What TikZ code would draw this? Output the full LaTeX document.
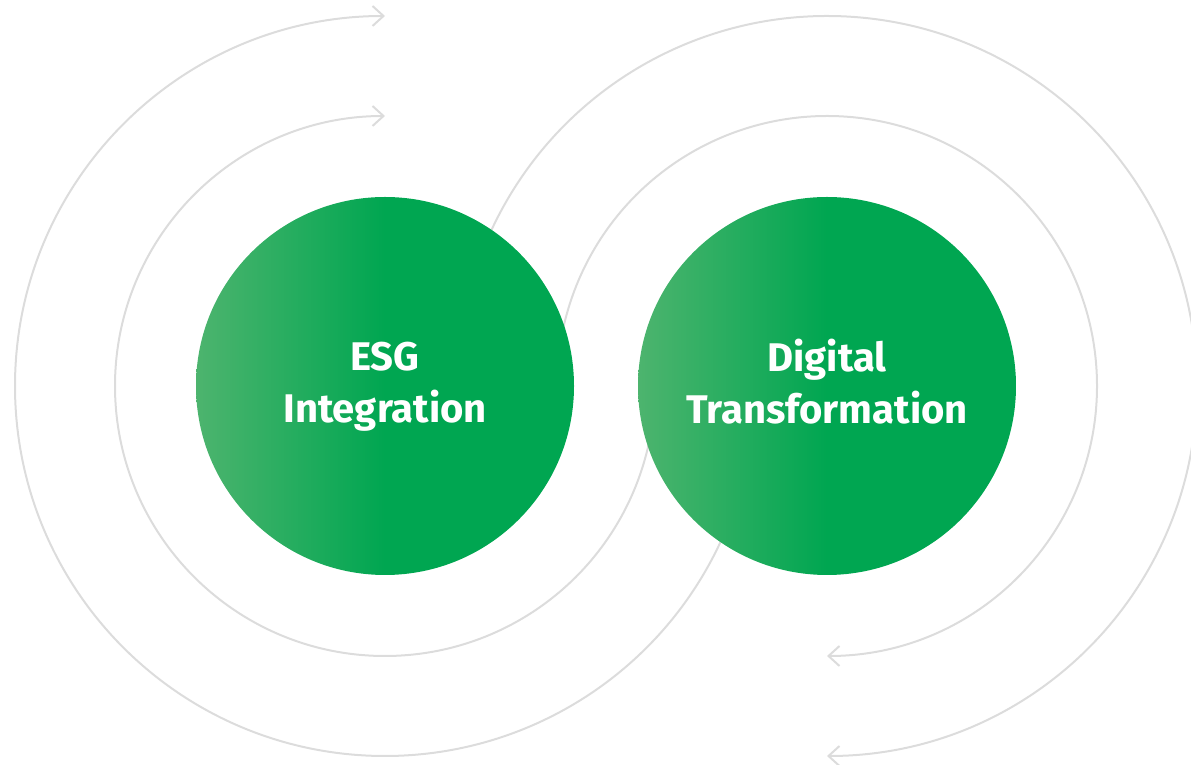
\documentclass[tikz,border=0pt]{standalone}
\usepackage{fontspec}
\setsansfont{Fira Sans}
\usetikzlibrary{arrows.meta}
\definecolor{arcgray}{HTML}{DCDCDC}
\definecolor{gdark}{HTML}{00A651}
\definecolor{glight}{HTML}{4DB46E}
\pgfdeclarehorizontalshading{bubbleshade}{100bp}{color(0bp)=(glight); color(25bp)=(glight); color(50bp)=(gdark); color(100bp)=(gdark)}
\tikzset{
  loop/.style={draw=arcgray, line width=2pt},
  tipped/.style={loop, {Straight Barb[length=11pt,width=20pt,line width=2pt]}-},
  bubble/.style={circle, minimum size=378pt, inner sep=0pt, draw=none,
    shading=bubbleshade,
    text=white, align=center, font=\sffamily\bfseries\fontsize{40}{52}\selectfont}
}
\begin{document}
\begin{tikzpicture}[x=1pt,y=1pt]
\useasboundingbox (0,0) rectangle (1191,765);
\clip (0,0) rectangle (1191,765);
\coordinate (cL) at (385,379);
\coordinate (cR) at (827,379);
% arcs around left circle
\draw[tipped] ([yshift=370pt]cL) arc[start angle=90, end angle=370, radius=370pt];
\draw[tipped] ([yshift=270pt]cL) arc[start angle=90, end angle=362, radius=270pt];
% arcs around right circle
\draw[tipped] ([yshift=-370pt]cR) arc[start angle=-90, end angle=190, radius=370pt];
\draw[tipped] ([yshift=-270pt]cR) arc[start angle=-90, end angle=183, radius=270pt];
% circles
\node[bubble] (esg) at (cL) {\vphantom{Dl}ESG\\Integration\vphantom{g}};
\node[bubble] (dt) at (cR) {\vphantom{Dl}Digital\\Transformation\vphantom{g}};
\end{tikzpicture}
\end{document}
